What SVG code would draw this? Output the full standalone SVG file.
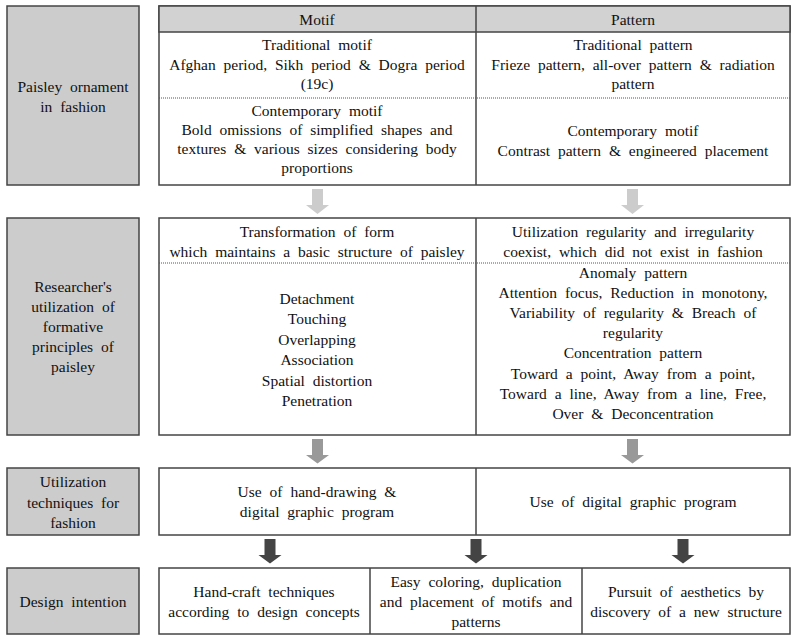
<svg xmlns="http://www.w3.org/2000/svg" width="800" height="639" viewBox="0 0 800 639">
<style>
text{font-family:"Liberation Serif","Times New Roman","DejaVu Serif",serif;font-size:15.5px;fill:#111;text-anchor:middle;word-spacing:4px}
.g{fill:#cccccc;stroke:#444;stroke-width:1.5}
.w{fill:#fff;stroke:#444;stroke-width:1.5}
.h{fill:#d2d2d2;stroke:#444;stroke-width:1.5}
.ln{stroke:#444;stroke-width:1.5;fill:none}
.dot{stroke:#555;stroke-width:1;stroke-dasharray:1 1;fill:none}
</style>
<rect width="800" height="639" fill="#fff"/>
<g id="row1">
<g id="label1"><rect class="g" x="7" y="6" width="132" height="179"/>
<text x="73" y="92">Paisley ornament</text><text x="73" y="112">in fashion</text></g>
<g id="table1">
<rect class="w" x="159" y="6" width="631" height="179"/>
<rect class="h" x="159" y="6" width="631" height="26"/>
<line class="ln" x1="476" y1="6" x2="476" y2="185"/>
<line class="dot" x1="159" y1="98" x2="790" y2="98"/>
<text x="317" y="25">Motif</text><text x="633" y="25">Pattern</text>
<text x="317" y="50">Traditional motif</text>
<text x="317" y="70">Afghan period, Sikh period &amp; Dogra period</text>
<text x="317" y="89">(19c)</text>
<text x="317" y="116">Contemporary motif</text>
<text x="317" y="135">Bold omissions of simplified shapes and</text>
<text x="317" y="154">textures &amp; various sizes considering body</text>
<text x="317" y="173">proportions</text>
<text x="633" y="50">Traditional pattern</text>
<text x="633" y="70">Frieze pattern, all-over pattern &amp; radiation</text>
<text x="633" y="89">pattern</text>
<text x="633" y="136">Contemporary motif</text>
<text x="633" y="156">Contrast pattern &amp; engineered placement</text>
</g>
</g>
<g id="row2">
<g id="label2"><rect class="g" x="7" y="218" width="132" height="217"/>
<text x="73" y="292">Researcher's</text><text x="73" y="312">utilization of</text><text x="73" y="332">formative</text><text x="73" y="352">principles of</text><text x="73" y="372">paisley</text></g>
<g id="table2">
<rect class="w" x="159" y="218" width="631" height="217"/>
<line class="ln" x1="476" y1="218" x2="476" y2="435"/>
<line class="dot" x1="159" y1="263" x2="790" y2="263"/>
<text x="317" y="237">Transformation of form</text>
<text x="317" y="257">which maintains a basic structure of paisley</text>
<text x="317" y="304">Detachment</text><text x="317" y="324">Touching</text><text x="317" y="345">Overlapping</text><text x="317" y="365">Association</text><text x="317" y="386">Spatial distortion</text><text x="317" y="406">Penetration</text>
<text x="633" y="237">Utilization regularity and irregularity</text>
<text x="633" y="257">coexist, which did not exist in fashion</text>
<text x="633" y="278">Anomaly pattern</text>
<text x="633" y="298">Attention focus, Reduction in monotony,</text>
<text x="633" y="318">Variability of regularity &amp; Breach of</text>
<text x="633" y="338">regularity</text>
<text x="633" y="358">Concentration pattern</text>
<text x="633" y="379">Toward a point, Away from a point,</text>
<text x="633" y="399">Toward a line, Away from a line, Free,</text>
<text x="633" y="419">Over &amp; Deconcentration</text>
</g>
</g>
<g id="row3">
<g id="label3"><rect class="g" x="7" y="468" width="132" height="67"/>
<text x="73" y="487">Utilization</text><text x="73" y="508">techniques for</text><text x="73" y="528">fashion</text></g>
<g id="table3">
<rect class="w" x="159" y="468" width="631" height="67"/>
<line class="ln" x1="476" y1="468" x2="476" y2="535"/>
<text x="317" y="497">Use of hand-drawing &amp;</text>
<text x="317" y="517">digital graphic program</text>
<text x="633" y="507">Use of digital graphic program</text>
</g>
</g>
<g id="row4">
<g id="label4"><rect class="g" x="7" y="568" width="132" height="66"/>
<text x="73" y="607">Design intention</text></g>
<g id="table4">
<rect class="w" x="159" y="568" width="631" height="66"/>
<line class="ln" x1="370" y1="568" x2="370" y2="634"/>
<line class="ln" x1="582" y1="568" x2="582" y2="634"/>
<text x="264" y="597">Hand-craft techniques</text>
<text x="264" y="617">according to design concepts</text>
<text x="476" y="587">Easy coloring, duplication</text>
<text x="476" y="607">and placement of motifs and</text>
<text x="476" y="627">patterns</text>
<text x="686" y="597">Pursuit of aesthetics by</text>
<text x="686" y="617">discovery of a new structure</text>
</g>
</g>
<g id="connectors">
<path fill="#cccccc" d="M312 189h11v16h6l-11.5 9l-11.5-9h6z"/>
<path fill="#cccccc" d="M627 189h11v16h6l-11.5 9l-11.5-9h6z"/>
<path fill="#999999" d="M312 439h11v16h6l-11.5 8.5l-11.5-8.5h6z"/>
<path fill="#999999" d="M627 439h11v16h6l-11.5 8.5l-11.5-8.5h6z"/>
<path fill="#444444" d="M264.5 539h11v16h6l-11.5 8.5l-11.5-8.5h6z"/>
<path fill="#444444" d="M470.5 539h11v16h6l-11.5 8.5l-11.5-8.5h6z"/>
<path fill="#444444" d="M677.5 539h11v16h6l-11.5 8.5l-11.5-8.5h6z"/>
</g>
</svg>
